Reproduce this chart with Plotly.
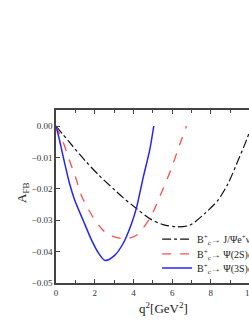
import plotly.graph_objects as go

# B_c -> J/psi e nu
q2_jpsi = [0, 0.67, 1.53, 2.22, 3.0, 3.48, 4.16, 4.84, 5.53, 6.22, 6.91, 7.68, 8.37, 8.89, 9.41, 9.84, 10.1]
afb_jpsi = [0, -0.005, -0.0112, -0.0157, -0.0202, -0.0229, -0.0263, -0.0295, -0.0314, -0.0321, -0.0316,
            -0.0279, -0.0236, -0.0183, -0.0109, -0.0045, 0.0]

# B_c -> psi(2S) e nu
q2_psi2s = [0, 0.33, 0.67, 1.02, 1.34, 1.91, 2.43, 2.77, 3.2, 3.6, 4.16, 4.84, 5.36, 5.96, 6.3, 6.74]
afb_psi2s = [0, -0.0045, -0.0105, -0.0165, -0.0225, -0.029, -0.0332, -0.0348, -0.0356, -0.0359, -0.0348,
             -0.0295, -0.0225, -0.0135, -0.0075, 0.0]

# B_c -> psi(3S) e nu
q2_psi3s = [0, 0.2, 0.45, 0.7, 0.95, 1.4, 1.85, 2.2, 2.53, 3.03, 3.46, 3.9, 4.16, 4.5, 4.84, 5.05]
afb_psi3s = [0, -0.005, -0.0119, -0.0183, -0.0233, -0.030, -0.0365, -0.0405, -0.0428, -0.0412, -0.0375,
             -0.0311, -0.026, -0.0165, -0.0077, 0.0]

names = ["B<sup>+</sup><sub>c</sub>→ J/Ψe<sup>+</sup>ν<sub>e</sub>",
         "B<sup>+</sup><sub>c</sub>→ Ψ(2S)e<sup>+</sup>ν<sub>e</sub>",
         "B<sup>+</sup><sub>c</sub>→ Ψ(3S)e<sup>+</sup>ν<sub>e</sub>"]

x_ticks = [0, 2, 4, 6, 8, 10]
y_ticks = [0.0, -0.01, -0.02, -0.03, -0.04, -0.05]

FONT = "Liberation Serif"

fig = go.Figure()
fig.add_trace(go.Scatter(x=q2_jpsi, y=afb_jpsi, mode="lines", name=names[0], legend="legend",
                         line=dict(color="#111111", width=1.2, dash="dashdot", shape="spline", smoothing=0.8)))
fig.add_trace(go.Scatter(x=q2_psi2s, y=afb_psi2s, mode="lines", name=names[1], legend="legend2",
                         line=dict(color="#ff4d4d", width=1.3, dash="dash", shape="spline", smoothing=0.8)))
fig.add_trace(go.Scatter(x=q2_psi3s, y=afb_psi3s, mode="lines", name=names[2], legend="legend3",
                         line=dict(color="#2424ff", width=1.5, shape="spline", smoothing=0.8)))

axis_common = dict(showline=True, linewidth=1.5, linecolor="#444444", mirror="ticks",
                   ticks="inside", ticklen=4, tickwidth=1, tickcolor="#444444",
                   showgrid=False, zeroline=False, automargin=False,
                   tickfont=dict(family=FONT, size=9, color="#333333"))

fig.update_xaxes(range=[0, 10.28], tickvals=x_ticks, ticktext=[str(v) for v in x_ticks],
                 minor=dict(dtick=1, ticks="inside", ticklen=3, tickcolor="#444444", showgrid=False),
                 **axis_common)
fig.update_yaxes(range=[-0.05, 0.0051], tickvals=y_ticks, tickformat=".2f", **axis_common)

leg_common = dict(x=0.508, xanchor="left", yanchor="middle",
                  bgcolor="rgba(0,0,0,0)", borderwidth=0,
                  font=dict(family=FONT, size=10, color="#222222"),
                  itemwidth=30, tracegroupgap=0)

# figure is slightly wider than the window; the right frame edge falls outside the view
fig.update_layout(
    width=255, height=323,
    margin=dict(l=56, r=0, t=110, b=40, autoexpand=False),
    paper_bgcolor="white", plot_bgcolor="white",
    font=dict(family=FONT, color="#222222"),
    showlegend=True,
    legend=dict(y=0.254, **leg_common),
    legend2=dict(y=0.168, **leg_common),
    legend3=dict(y=0.087, **leg_common),
    annotations=[
        dict(text="A<sub>FB</sub>", xref="paper", yref="paper", x=-0.171, y=0.526,
             xanchor="center", yanchor="middle",
             showarrow=False, textangle=-90, font=dict(family=FONT, size=13, color="#222222")),
        dict(text="q<sup>2</sup>[GeV<sup>2</sup>]", xref="paper", yref="paper", x=0.538, y=-0.087,
             xanchor="center", yanchor="top",
             showarrow=False, font=dict(family=FONT, size=13, color="#222222")),
    ],
)

fig.write_html("out.html", config={"displayModeBar": False},
               post_script="document.body.style.margin='0';document.body.style.overflow='hidden';")
